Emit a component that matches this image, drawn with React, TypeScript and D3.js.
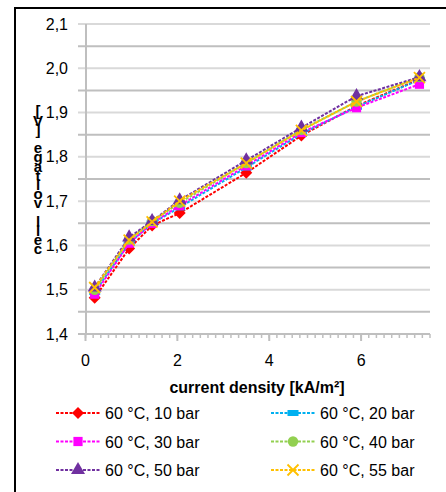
import React from 'react';
import * as d3 from 'd3';

// current density [kA/m²]
const currentDensity = [0.2, 0.95, 1.45, 2.05, 3.5, 4.7, 5.9, 7.27];

const seriesNames = [
  '60 °C, 10 bar',
  '60 °C, 20 bar',
  '60 °C, 30 bar',
  '60 °C, 40 bar',
  '60 °C, 50 bar',
  '60 °C, 55 bar',
];

const v10 = [1.482, 1.593, 1.645, 1.673, 1.764, 1.848, 1.915, 1.975];
const v20 = [1.495, 1.605, 1.650, 1.686, 1.776, 1.852, 1.913, 1.974];
const v30 = [1.490, 1.605, 1.650, 1.690, 1.780, 1.855, 1.911, 1.964];
const v40 = [1.500, 1.613, 1.655, 1.696, 1.786, 1.861, 1.925, 1.980];
const v50 = [1.505, 1.618, 1.655, 1.702, 1.792, 1.866, 1.937, 1.980];
const v55 = [1.505, 1.612, 1.653, 1.700, 1.786, 1.860, 1.925, 1.979];

const yTicks = [1.4, 1.5, 1.6, 1.7, 1.8, 1.9, 2.0, 2.1];
const xTicks = [0, 2, 4, 6];

const colors = ['#FF0000', '#00B0F0', '#FF00FF', '#92D050', '#7030A0', '#FFC000'];
const markers = ['diamond', 'rect', 'square', 'circle', 'triangle', 'x'];

const yLabel = 'cell voltage [V]';

function Marker({ type, color, x, y }: { type: string; color: string; x: number; y: number }) {
  const t = `translate(${x},${y})`;
  if (type === 'rect') return <rect x={x - 5.5} y={y - 3} width={11} height={6} fill={color} />;
  if (type === 'diamond') return <path transform={t} d="M0,-6L6,0L0,6L-6,0Z" fill={color} />;
  if (type === 'x') {
    return <path transform={t} d="M-5.5,-5.5L5.5,5.5M-5.5,5.5L5.5,-5.5" stroke={color} strokeWidth={1.8} fill="none" />;
  }
  const sym = {
    square: d3.symbolSquare,
    circle: d3.symbolCircle,
    triangle: d3.symbolTriangle,
  }[type]!;
  return <path transform={t} d={d3.symbol(sym, 85)()!} fill={color} />;
}

export default function App() {
  const W = 446;
  const H = 492;
  const x = d3.scaleLinear().domain([0, 7.5]).range([85.5, 430]);
  const y = d3.scaleLinear().domain([1.4, 2.1]).range([334, 24]);
  const series = [v10, v20, v30, v40, v50, v55];
  const line = d3.line<number>().x((_, i) => x(currentDensity[i])).y(d => y(d));

  const gridVals = d3.range(0, 15).map(i => 1.4 + i * 0.05);
  const minorX = d3.range(0, 46).map(i => i / 6).filter(v => v <= 7.5);
  const font = '"Liberation Sans", Arial, sans-serif';

  return (
    <div style={{ position: 'absolute', left: 0, top: 0 }}>
      <svg width={W} height={H} style={{ display: 'block', fontFamily: font }}>
        <rect x={0} y={0} width={W} height={H} fill="#fff" />
        <rect x={15} y={8} width={460} height={520} fill="none" stroke="#000" strokeWidth={2} />

        {gridVals.map((v, i) => (
          <line
            key={'g' + i}
            x1={78}
            x2={430}
            y1={y(v)}
            y2={y(v)}
            stroke={i % 2 === 0 ? '#D9D9D9' : '#BFBFBF'}
            strokeWidth={2}
          />
        ))}
        <line x1={86} x2={86} y1={y(2.1)} y2={y(1.4)} stroke="#BFBFBF" strokeWidth={2} />
        <line x1={78} x2={430} y1={y(1.4)} y2={y(1.4)} stroke="#BFBFBF" strokeWidth={2} />
        {minorX.map((v, i) => (
          <line key={'mx' + i} x1={x(v)} x2={x(v)} y1={334} y2={338} stroke="#BFBFBF" strokeWidth={1.5} />
        ))}
        {xTicks.map(v => (
          <line key={'xt' + v} x1={x(v)} x2={x(v)} y1={334} y2={341} stroke="#BFBFBF" strokeWidth={2} />
        ))}

        {yTicks.map(v => (
          <text key={'yl' + v} x={68} y={y(v) + 5.5} textAnchor="end" fontSize={16} fill="#000">
            {d3.format('.1f')(v).replace('.', ',')}
          </text>
        ))}
        {xTicks.map(v => (
          <text key={'xl' + v} x={x(v)} y={366} textAnchor="middle" fontSize={16} fill="#000">
            {v}
          </text>
        ))}

        <text x={257} y={393} textAnchor="middle" fontSize={16} fontWeight="bold" fill="#000">
          current density [kA/m²]
        </text>

        {/* stacked, squeezed axis title as in the source picture */}
        <text
          x={38}
          y={176}
          textAnchor="middle"
          fontSize={15}
          fontWeight="bold"
          fill="#000"
          style={{
            writingMode: 'vertical-rl',
            textOrientation: 'upright',
            direction: 'rtl',
            unicodeBidi: 'bidi-override',
            letterSpacing: '-7.8px',
          }}
        >
          {yLabel}
        </text>

        {series.map((s, k) => (
          <g key={'s' + k}>
            <path d={line(s)!} fill="none" stroke={colors[k]} strokeWidth={2} strokeDasharray="3,1.5" />
            {s.map((v, i) => (
              <Marker key={i} type={markers[k]} color={colors[k]} x={x(currentDensity[i])} y={y(v)} />
            ))}
          </g>
        ))}

        {seriesNames.map((name, k) => {
          const col = k % 2;
          const row = Math.floor(k / 2);
          const lx = col === 0 ? 56 : 271;
          const ly = 413 + row * 28.5;
          return (
            <g key={'l' + k}>
              <line x1={lx} x2={lx + 44} y1={ly} y2={ly} stroke={colors[k]} strokeWidth={2} strokeDasharray="3,1.5" />
              <Marker type={markers[k]} color={colors[k]} x={lx + 22} y={ly} />
              <text x={lx + 49} y={ly + 6} fontSize={16} fill="#000">
                {name}
              </text>
            </g>
          );
        })}
      </svg>
    </div>
  );
}
